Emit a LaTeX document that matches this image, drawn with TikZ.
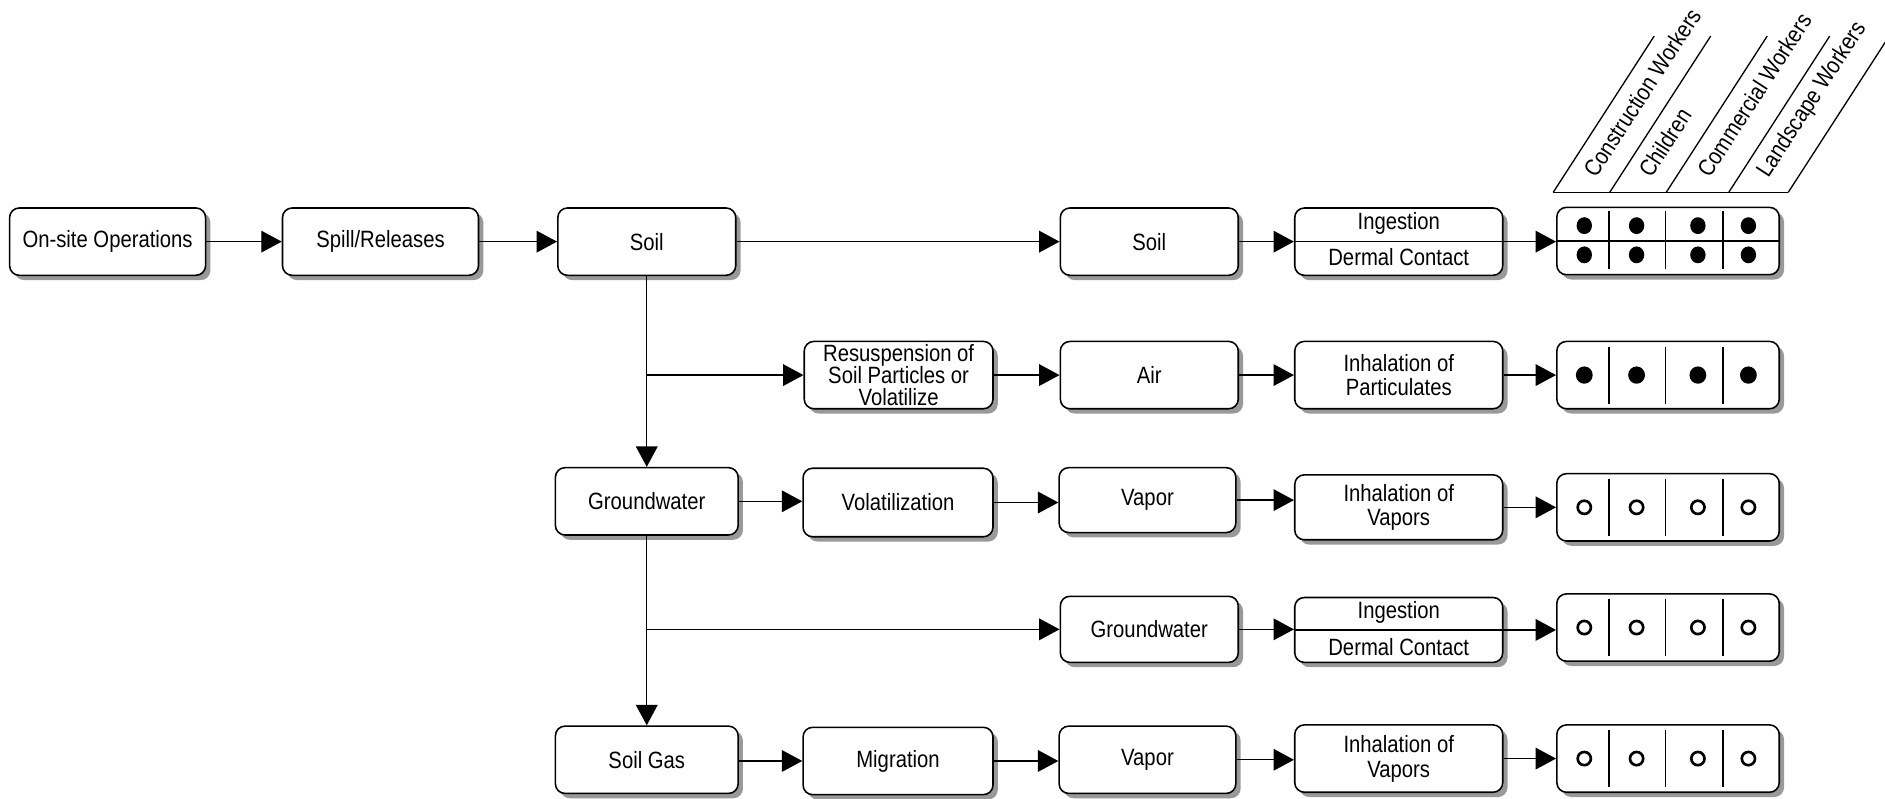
\documentclass[tikz,border=0pt]{standalone}
\usepackage{fontspec}
\setmainfont{Liberation Sans}[FakeStretch=0.86]
\usetikzlibrary{arrows.meta,shadows,calc}
\begin{document}
\begin{tikzpicture}[x=0.5pt,y=-0.5pt,
  font=\fontsize{9.8pt}{10.3pt}\selectfont,
  box/.style={draw=black, line width=0.65pt, rounded corners=4pt, fill=white,
    align=center, inner sep=1pt,
    drop shadow={shadow xshift=2pt, shadow yshift=-2pt, fill=black!40, opacity=1}},
  sz/.style 2 args={minimum width=#1*0.5pt, minimum height=#2*0.5pt},
  txt/.style={inner sep=0pt, align=center},
  arr/.style={line width=0.55pt, -{Triangle[length=8.5pt,width=9pt]}},
  ln/.style={line width=0.55pt},
  hdr/.style={rotate=57, anchor=base west, inner sep=0pt},
  fdot/.style={fill=black},
  odot/.style={draw=black, line width=1.1pt}
]
\useasboundingbox (0,0) rectangle (1568,664);

% Row 1
\node[box,sz={163}{56}] (ops) at (89.5,201) {On-site Operations};
\node[box,sz={163}{56}] (spill) at (316.5,201) {Spill/Releases};
\node[box,sz={148}{56}] (soilA) at (538,201) {Soil};
\node[box,sz={148}{56}] (soilB) at (956,201) {Soil};
\node[box,sz={173}{56}] (ingA) at (1163.5,201) {};
\node[box,sz={185}{56}] (dotsA) at (1387.5,200.5) {};
% Row 2
\node[box,sz={157}{56}] (resus) at (747.5,312) {Resuspension of\\[-1.2pt]Soil Particles or\\[-1.2pt]Volatilize};
\node[box,sz={148}{56}] (air) at (956,312) {Air};
\node[box,sz={173}{56}] (inhA) at (1163.5,312) {Inhalation of\\Particulates};
\node[box,sz={185}{56}] (dotsB) at (1387.5,312) {};
% Row 3
\node[box,sz={152}{56}] (gwA) at (538,417) {Groundwater};
\node[box,sz={158}{57}] (vol) at (747,418) {Volatilization};
\node[box,sz={147}{54}] (vapA) at (954.5,416) {Vapor};
\node[box,sz={173}{54}] (inhB) at (1163.5,422) {Inhalation of\\Vapors};
\node[box,sz={185}{56}] (dotsC) at (1387.5,422) {};
% Row 4
\node[box,sz={148}{55}] (gwB) at (956,523.5) {Groundwater};
\node[box,sz={173}{54}] (ingB) at (1163.5,524) {};
\node[box,sz={185}{56}] (dotsD) at (1387.5,522) {};
% Row 5
\node[box,sz={152}{56}] (sgas) at (538,632) {Soil Gas};
\node[box,sz={158}{56}] (mig) at (747,633) {Migration};
\node[box,sz={147}{56}] (vapB) at (954.5,632) {Vapor};
\node[box,sz={173}{56}] (inhC) at (1163.5,631) {Inhalation of\\Vapors};
\node[box,sz={185}{56}] (dotsE) at (1387.5,631) {};

% Ingestion / Dermal Contact texts and dividers
\node[txt] (ingAt) at ($(ingA)+(0,-15)$) {Ingestion};
\node[txt] (ingAb) at ($(ingA)+(0,13)$) {Dermal Contact};
\node[txt] (ingBt) at ($(ingB)+(0,-15)$) {Ingestion};
\node[txt] (ingBb) at ($(ingB)+(0,14)$) {Dermal Contact};
\draw[ln] (ingA.west) -- (ingA.east);
\draw[ln] (ingB.west) -- (ingB.east);

% Connectors
\draw[arr] (ops.east) -- (ops.east -| spill.west);
\draw[arr] (spill.east) -- (spill.east -| soilA.west);
\draw[arr] (soilA.east) -- (soilA.east -| soilB.west);
\draw[arr] (soilB.east) -- (soilB.east -| ingA.west);
\draw[arr] (ingA.east) -- (ingA.east -| dotsA.west);

\draw[arr] (soilA.south) -- (gwA.north);
\draw[arr] (soilA.south |- resus.west) -- (resus.west);
\draw[arr] (resus.east) -- (resus.east -| air.west);
\draw[arr] (air.east) -- (air.east -| inhA.west);
\draw[arr] (inhA.east) -- (inhA.east -| dotsB.west);

\draw[arr] (gwA.east) -- (gwA.east -| vol.west);
\draw[arr] (vol.east) -- (vol.east -| vapA.west);
\draw[arr] (vapA.east) -- (vapA.east -| inhB.west);
\draw[arr] (inhB.east) -- (inhB.east -| dotsC.west);

\draw[arr] (gwA.south) -- (sgas.north);
\draw[arr] (gwA.south |- gwB.west) -- (gwB.west);
\draw[arr] (gwB.east) -- (gwB.east -| ingB.west);
\draw[arr] (ingB.east) -- (ingB.east -| dotsD.west);

\draw[arr] (sgas.east |- mig.west) -- (mig.west);
\draw[arr] (mig.east) -- (mig.east -| vapB.west);
\draw[arr] (vapB.east) -- (vapB.east -| inhC.west);
\draw[arr] (inhC.east) -- (inhC.east -| dotsE.west);

% Dot boxes
\draw[ln] (dotsA.west) -- (dotsA.east);
\foreach \dx in {44,91,139}{
  \draw[ln] ($(dotsA.north west)+(\dx,4)$) -- ($(dotsA.south west)+(\dx,-5)$);
}
\foreach \dx in {23.5,67,118,160}{
  \fill[fdot] ($(dotsA.west)+(\dx,-12.8)$) ellipse [x radius=3.2pt, y radius=3.5pt];
  \fill[fdot] ($(dotsA.west)+(\dx,11.5)$) ellipse [x radius=3.2pt, y radius=3.5pt];
}
\foreach \b in {dotsB,dotsC,dotsD,dotsE}{
  \foreach \dx in {44,91,139}{
    \draw[ln] ($(\b.north west)+(\dx,5)$) -- ($(\b.south west)+(\dx,-5)$);
  }
}
\foreach \dx in {23.5,67,118,160}{
  \fill[fdot] ($(dotsB.west)+(\dx,0)$) ellipse [x radius=3.5pt, y radius=3.6pt];
  \draw[odot] ($(dotsC.west)+(\dx,0)$) circle [radius=2.75pt];
  \draw[odot] ($(dotsD.west)+(\dx,0)$) circle [radius=2.75pt];
  \draw[odot] ($(dotsE.west)+(\dx,0)$) circle [radius=2.75pt];
}

% Header
\coordinate (h1) at (1292,160);
\coordinate (h2) at (1339,160);
\coordinate (h3) at (1386,160);
\coordinate (h4) at (1438,160);
\coordinate (h5) at (1487.5,160);
\draw[ln] (h1) -- (h5);
\foreach \h in {h1,h2,h3,h4,h5}{
  \draw[ln] (\h) -- ++(84,-130);
}
\node[hdr] (lab1) at ($(h1)!0.5!(h2)+(12,-11)$) {Construction Workers};
\node[hdr] (lab2) at ($(h2)!0.5!(h3)+(11,-11)$) {Children};
\node[hdr] (lab3) at ($(h3)!0.5!(h4)+(10,-11)$) {Commercial Workers};
\node[hdr] (lab4) at ($(h4)!0.5!(h5)+(8,-11)$) {Landscape Workers};
\end{tikzpicture}
\end{document}
